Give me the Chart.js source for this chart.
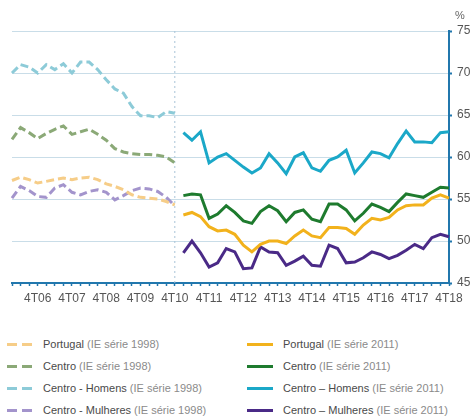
<!DOCTYPE html>
<html>
<head>
<meta charset="utf-8">
<script src="https://cdn.jsdelivr.net/npm/chart.js@4/dist/chart.umd.min.js"></script>
<style>
    body { margin: 0; background: #fff; font-family: "Liberation Sans", Arial, sans-serif; }
    #wrap { position: relative; width: 474px; height: 416px; overflow: hidden; }
    #box { position: absolute; left: 0; top: 0; width: 474px; height: 318px; }
    #legend { position: absolute; left: 7px; top: 333px; width: 467px; display: grid; grid-template-columns: 240px 227px; grid-auto-flow: column; grid-template-rows: repeat(4, 22px); }
    .item { display: flex; align-items: center; font-size: 11px; color: #8a8a8a; white-space: pre; }
    .item b { font-weight: normal; color: #4a4a4a; }
    .sw { width: 26px; height: 3px; margin-right: 10px; flex: none; }
</style>
</head>
<body>
<div id="wrap">
    <div id="box"><canvas id="Emprego-chart"></canvas></div>
    <div id="legend"></div>
</div>
<script>
// quarters 1T06 .. 4T18
var years = ["06", "07", "08", "09", "10", "11", "12", "13", "14", "15", "16", "17", "18"];
var quarters = [];
years.forEach(function(y) {
    for (var q = 1; q <= 4; q++) quarters.push(q + "T" + y);
});
var breakAt = "4T10";

// IE serie 1998: 1T06 .. 4T10
var portugal98 = [57.2, 57.6, 57.3, 56.9, 57.1, 57.3, 57.5, 57.3, 57.5, 57.6, 57.3, 56.8, 56.5, 56.1, 55.5, 55.2, 55.1, 55.0, 54.7, 54.3];
var centro98 = [62.1, 63.5, 62.9, 62.2, 62.8, 63.3, 63.7, 62.7, 63.0, 63.3, 62.7, 62.0, 61.0, 60.6, 60.4, 60.3, 60.3, 60.2, 60.0, 59.3];
var homens98 = [70.0, 71.0, 70.7, 70.0, 71.0, 70.4, 71.1, 70.0, 71.3, 71.3, 70.4, 69.2, 68.1, 67.6, 66.0, 64.9, 64.9, 64.7, 65.4, 65.2];
var mulheres98 = [55.1, 56.5, 56.0, 55.3, 55.2, 56.3, 56.7, 55.8, 55.5, 55.9, 56.1, 55.8, 54.9, 55.4, 56.0, 56.3, 56.2, 55.9, 55.2, 54.2];

// IE serie 2011: 1T11 .. 4T18
var portugal11 = [53.1, 53.4, 52.9, 51.7, 51.2, 51.3, 50.8, 49.5, 48.7, 49.6, 50.0, 50.0, 49.7, 50.6, 51.3, 50.6, 50.4, 51.6, 51.6, 51.5, 50.8, 51.9, 52.7, 52.5, 52.8, 53.7, 54.2, 54.3, 54.3, 55.1, 55.5, 55.1];
var centro11 = [55.4, 55.6, 55.5, 52.7, 53.2, 54.2, 53.4, 52.4, 52.1, 53.5, 54.2, 53.6, 52.3, 53.4, 53.7, 52.6, 52.3, 54.4, 54.4, 53.7, 52.4, 53.3, 54.4, 54.0, 53.5, 54.6, 55.6, 55.4, 55.2, 55.8, 56.4, 56.3];
var homens11 = [62.9, 62.0, 63.0, 59.3, 60.0, 60.4, 59.6, 58.8, 58.1, 58.7, 60.4, 59.3, 58.0, 60.0, 60.5, 58.7, 58.3, 59.6, 60.0, 60.8, 58.1, 59.3, 60.6, 60.4, 59.9, 61.6, 63.1, 61.8, 61.8, 61.7, 62.9, 63.0];
var mulheres11 = [48.6, 50.0, 48.6, 46.9, 47.4, 49.1, 48.7, 46.7, 46.8, 49.3, 48.7, 48.6, 47.1, 47.6, 48.2, 47.1, 47.0, 49.5, 49.1, 47.4, 47.5, 48.0, 48.7, 48.4, 47.9, 48.3, 48.9, 49.6, 49.1, 50.4, 50.8, 50.5];

var yTicks = [45, 50, 55, 60, 65, 70, 75];

var names = ["Portugal", "Centro", "Centro - Homens", "Centro - Mulheres"];
var names11 = ["Portugal", "Centro", "Centro \u2013 Homens", "Centro \u2013 Mulheres"];
var oldColors = ["#f6cd88", "#8ba977", "#8dcbd8", "#a394cc"];
var newColors = ["#f2b21c", "#1e7b2e", "#1ba8c8", "#4a2a87"];

var cut = quarters.indexOf(breakAt) + 1;
function early(arr) {
    return arr.concat(new Array(quarters.length - arr.length).fill(null));
}
function late(arr) {
    return new Array(cut).fill(null).concat(arr);
}

var datasets = [];
[portugal98, centro98, homens98, mulheres98].forEach(function(arr, i) {
    datasets.push({
        label: names[i],
        serie: "(IE s\u00e9rie 1998)",
        data: early(arr),
        borderColor: oldColors[i],
        borderWidth: 3,
        borderDash: [8, 4],
        pointRadius: 0,
        fill: false
    });
});
[portugal11, centro11, homens11, mulheres11].forEach(function(arr, i) {
    datasets.push({
        label: names11[i],
        serie: "(IE s\u00e9rie 2011)",
        data: late(arr),
        borderColor: newColors[i],
        borderWidth: 3,
        pointRadius: 0,
        fill: false
    });
});

var axisBlue = "#2177ad";

var extras = {
    id: "extras",
    beforeDatasetsDraw: function(chart) {
        var ctx = chart.ctx;
        var px = chart.scales.x.getPixelForValue(quarters.indexOf(breakAt));
        ctx.save();
        ctx.strokeStyle = "#a9c3d8";
        ctx.lineWidth = 1;
        ctx.setLineDash([2, 3]);
        ctx.beginPath();
        ctx.moveTo(px, chart.chartArea.top);
        ctx.lineTo(px, chart.chartArea.bottom);
        ctx.stroke();
        ctx.restore();
    },
    afterDraw: function(chart) {
        var ctx = chart.ctx;
        ctx.save();
        ctx.fillStyle = "#666";
        ctx.font = "11px 'Liberation Sans', Arial";
        ctx.textBaseline = "middle";
        ctx.fillText("%", chart.scales.y.left + 6, chart.chartArea.top - 15);
        ctx.restore();
    }
};

var chart = new Chart(document.getElementById("Emprego-chart"), {
    type: "line",
    data: {
        labels: quarters,
        datasets: datasets
    },
    options: {
        responsive: true,
        maintainAspectRatio: false,
        animation: false,
        layout: { padding: { left: 12, right: 0, top: 31, bottom: 0 } },
        plugins: {
            legend: { display: false },
            tooltip: { enabled: false }
        },
        scales: {
            x: {
                type: "category",
                offset: false,
                grid: {
                    drawOnChartArea: false,
                    drawTicks: true,
                    tickLength: 3,
                    tickColor: axisBlue,
                    tickWidth: 1.5
                },
                border: { color: axisBlue, width: 2 },
                ticks: {
                    autoSkip: false,
                    maxRotation: 0,
                    padding: 5,
                    color: "#555",
                    font: { family: "'Liberation Sans', Arial", size: 12 },
                    callback: function(v) {
                        var lab = quarters[v];
                        return lab.charAt(0) === "4" ? lab : "";
                    }
                },
                afterFit: function(scale) { scale.height = 35; }
            },
            y: {
                position: "right",
                min: yTicks[0],
                max: yTicks[yTicks.length - 1],
                afterBuildTicks: function(scale) {
                    scale.ticks = yTicks.map(function(v) { return { value: v }; });
                },
                grid: {
                    color: "#c9dde8",
                    lineWidth: 1,
                    tickLength: 3,
                    tickColor: axisBlue,
                    tickWidth: 2
                },
                border: { color: axisBlue, width: 2 },
                ticks: {
                    padding: 5,
                    color: "#555",
                    font: { family: "'Liberation Sans', Arial", size: 12 }
                },
                afterFit: function(scale) { scale.width = 25; }
            }
        }
    },
    plugins: [extras]
});

// legend built from the chart's own datasets
var legend = document.getElementById("legend");
chart.data.datasets.forEach(function(ds) {
    var item = document.createElement("div");
    item.className = "item";
    var sw = document.createElement("span");
    sw.className = "sw";
    if (ds.borderDash) {
        sw.style.background = "linear-gradient(to right, " + ds.borderColor + " 0 10px, transparent 10px 15px, " + ds.borderColor + " 15px 25px, transparent 25px)";
    } else {
        sw.style.background = ds.borderColor;
    }
    var name = document.createElement("b");
    name.textContent = ds.label;
    var rest = document.createElement("span");
    rest.textContent = "\u00a0" + ds.serie;
    item.appendChild(sw);
    item.appendChild(name);
    item.appendChild(rest);
    legend.appendChild(item);
});
</script>
</body>
</html>
